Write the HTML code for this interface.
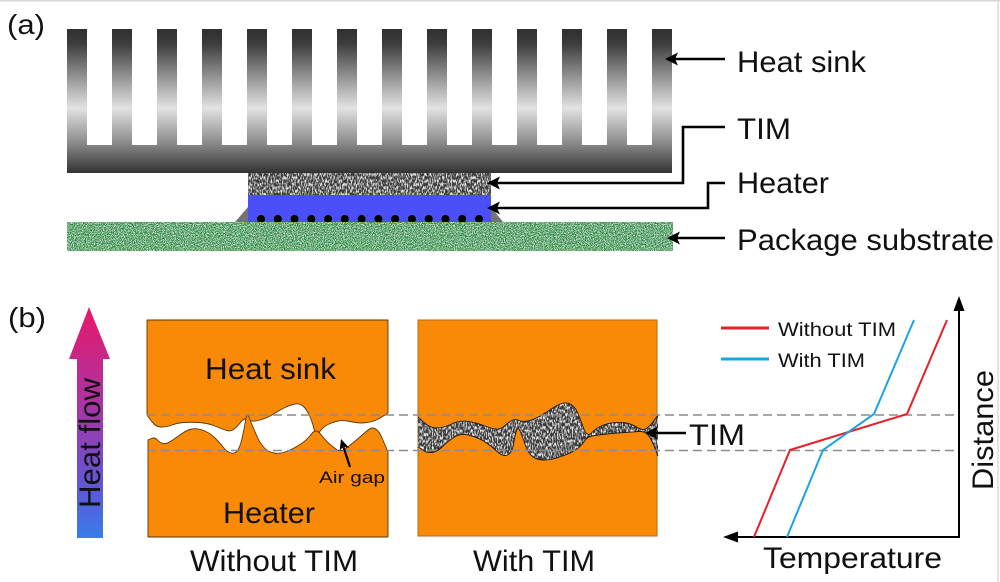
<!DOCTYPE html>
<html><head><meta charset="utf-8"><style>html,body{margin:0;padding:0;background:#fff;}svg{display:block}</style></head>
<body>
<svg width="1000" height="582" viewBox="0 0 1000 582" xmlns="http://www.w3.org/2000/svg" font-family="'Liberation Sans', Arial, sans-serif">
<defs>
  <linearGradient id="hs" gradientUnits="userSpaceOnUse" x1="0" y1="29" x2="0" y2="173">
    <stop offset="0" stop-color="#2f2f2f"/>
    <stop offset="0.1" stop-color="#3c3c3c"/>
    <stop offset="0.35" stop-color="#9a9a9a"/>
    <stop offset="0.55" stop-color="#e2e2e2"/>
    <stop offset="0.8" stop-color="#878787"/>
    <stop offset="1" stop-color="#323232"/>
  </linearGradient>
  <linearGradient id="hf" gradientUnits="userSpaceOnUse" x1="0" y1="307" x2="0" y2="538">
    <stop offset="0" stop-color="#e8186a"/>
    <stop offset="0.45" stop-color="#a536a6"/>
    <stop offset="0.8" stop-color="#5a5ad8"/>
    <stop offset="1" stop-color="#3a7ce8"/>
  </linearGradient>
  <filter id="texGray" x="0" y="0" width="1" height="1">
    <feTurbulence type="fractalNoise" baseFrequency="0.8 0.3" numOctaves="2" seed="5" result="n"/>
    <feColorMatrix in="n" type="matrix" values="0 0 0 0 0.88  0 0 0 0 0.88  0 0 0 0 0.88  3.8 0 0 0 -1.75" result="sp"/>
    <feComposite in="sp" in2="SourceGraphic" operator="atop"/>
  </filter>
  <filter id="texGreen" x="0" y="0" width="1" height="1">
    <feTurbulence type="fractalNoise" baseFrequency="1.1" numOctaves="2" seed="9" result="n"/>
    <feColorMatrix in="n" type="matrix" values="0 0 0 0 0.92  0 0 0 0 0.96  0 0 0 0 0.92  3.6 0 0 0 -1.6" result="sp"/>
    <feComposite in="sp" in2="SourceGraphic" operator="atop"/>
  </filter>
</defs>

<!-- border -->
<line x1="0" y1="0.75" x2="1000" y2="0.75" stroke="#d6d6d6" stroke-width="1.5"/>
<line x1="998" y1="0" x2="998" y2="582" stroke="#dcdcdc" stroke-width="1.5"/>

<!-- (a) -->
<text x="7" y="34" font-size="28" textLength="38" lengthAdjust="spacingAndGlyphs" fill="#111">(a)</text>

<!-- heat sink -->
<g fill="url(#hs)">
  <rect x="67" y="145" width="605" height="28"/>
  <rect x="67" y="29" width="20" height="117"/>
  <rect x="112" y="29" width="20" height="117"/>
  <rect x="157" y="29" width="20" height="117"/>
  <rect x="202" y="29" width="20" height="117"/>
  <rect x="247" y="29" width="20" height="117"/>
  <rect x="292" y="29" width="20" height="117"/>
  <rect x="337" y="29" width="20" height="117"/>
  <rect x="382" y="29" width="20" height="117"/>
  <rect x="427" y="29" width="20" height="117"/>
  <rect x="472" y="29" width="20" height="117"/>
  <rect x="517" y="29" width="20" height="117"/>
  <rect x="562" y="29" width="20" height="117"/>
  <rect x="607" y="29" width="20" height="117"/>
  <rect x="652" y="29" width="20" height="117"/>
</g>

<!-- TIM layer -->
<rect x="248" y="173" width="243" height="22" fill="#3a3a3a" filter="url(#texGray)"/>
<!-- fillet -->
<polygon points="235,222 248,207 491,207 503,222" fill="#727272"/>
<!-- heater -->
<rect x="248" y="195" width="243" height="27" fill="#4a50f8"/>
<g fill="#000">
  <circle cx="261" cy="219" r="4"/><circle cx="277.8" cy="219" r="4"/><circle cx="294.5" cy="219" r="4"/>
  <circle cx="311.3" cy="219" r="4"/><circle cx="328.1" cy="219" r="4"/><circle cx="344.8" cy="219" r="4"/>
  <circle cx="361.6" cy="219" r="4"/><circle cx="378.4" cy="219" r="4"/><circle cx="395.2" cy="219" r="4"/>
  <circle cx="411.9" cy="219" r="4"/><circle cx="428.7" cy="219" r="4"/><circle cx="445.5" cy="219" r="4"/>
  <circle cx="462.2" cy="219" r="4"/><circle cx="479" cy="219" r="4"/>
</g>
<!-- substrate -->
<rect x="67" y="222" width="606" height="29" fill="#168a38" filter="url(#texGreen)"/>

<!-- leaders (a) -->
<g stroke="#000" stroke-width="2.6" fill="none">
  <line x1="675" y1="59" x2="725" y2="59"/>
  <polyline points="725,127 683,127 683,183 497,183"/>
  <polyline points="725,183 708,183 708,208 497,208"/>
  <line x1="677" y1="238" x2="725" y2="238"/>
</g>
<g fill="#000">
  <polygon points="665,59 678,52.5 675,59 678,65.5"/>
  <polygon points="487,183 500,176.5 497,183 500,189.5"/>
  <polygon points="487,208 500,201.5 497,208 500,214.5"/>
  <polygon points="667,238 680,231.5 677,238 680,244.5"/>
</g>
<g font-size="30" fill="#111">
  <text x="737" y="72" textLength="129" lengthAdjust="spacingAndGlyphs">Heat sink</text>
  <text x="737" y="139" textLength="54" lengthAdjust="spacingAndGlyphs">TIM</text>
  <text x="737" y="193" textLength="92" lengthAdjust="spacingAndGlyphs">Heater</text>
  <text x="737" y="250" textLength="257" lengthAdjust="spacingAndGlyphs">Package substrate</text>
</g>

<!-- (b) -->
<text x="8" y="327" font-size="28" textLength="38" lengthAdjust="spacingAndGlyphs" fill="#111">(b)</text>

<!-- heat flow arrow -->
<path d="M77,538 L77,359 L69,359 L89,307 L110,359 L103,359 L103,538 Z" fill="url(#hf)"/>
<text transform="translate(100,508) rotate(-90)" font-size="30" textLength="130" lengthAdjust="spacingAndGlyphs" fill="#111">Heat flow</text>

<!-- Without TIM block: upper (heat sink) -->
<path d="M147,320 H388 V413 L382.5,416.5 Q377,420 372,421.5 Q367,423 362,423 Q357,423 350,421.5 Q343,420 338,421 Q333,422 328,424.5 Q323,427 319.5,432 Q316,437 314,429 Q312,421 309.5,415.5 Q307,410 303.5,406.5 Q300,403 295,404 Q290,405 285,407.5 Q280,410 273.5,414 Q267,418 260,420 Q253,422 250,420.5 Q247,419 245,419 Q243,419 240,423 Q237,427 233.5,429.5 Q230,432 225,430 Q220,428 213.5,425.5 Q207,423 198.5,422.5 Q190,422 183.5,422.5 Q177,423 172,425 Q167,427 162,427 Q157,427 154.5,424.5 Q152,422 149.5,418.5 L147,415 Z" fill="#f98a07" stroke="#5a3808" stroke-width="0.9" stroke-linejoin="round"/>
<!-- Without TIM block: lower (heater) -->
<path d="M148,537 V440 L151.5,438.5 Q155,437 157.5,440 Q160,443 163.5,443.5 Q167,444 172,440.5 Q177,437 182,433.5 Q187,430 192,429 Q197,428 203.5,430.5 Q210,433 215,438 Q220,443 223.5,447.5 Q227,452 231,453 Q235,454 237.5,450.5 Q240,447 242,438.5 Q244,430 245.5,421 Q247,412 248.5,416 Q250,420 252.5,426 Q255,432 257.5,437.5 Q260,443 264,447.5 Q268,452 274,453 Q280,454 286.5,451.5 Q293,449 300,444.5 Q307,440 311.5,434 Q316,428 320.5,434 Q325,440 329,443.5 Q333,447 336.5,449.5 Q340,452 344,449.5 Q348,447 354,442 Q360,437 365,432.5 Q370,428 372.5,428 Q375,428 377.5,430.5 Q380,433 382.5,439 Q385,445 386.5,448.5 L388,452 V537 Z" fill="#f98a07" stroke="#5a3808" stroke-width="0.9" stroke-linejoin="round"/>

<!-- With TIM block -->
<rect x="418" y="320" width="239" height="216" fill="#f98a07" stroke="#b86a10" stroke-width="1"/>
<path id="band" d="M418,417 L424,422.5 Q430,428 436.5,428 Q443,428 451.5,424 Q460,420 468.5,421.5 Q477,423 483.5,425.5 Q490,428 495,429 Q500,430 505,425.5 Q510,421 513,420 Q516,419 519,420.5 Q522,422 527.5,421 Q533,420 540,416 Q547,412 552,408.5 Q557,405 562,403.5 Q567,402 571,404.5 Q575,407 577.5,412.5 Q580,418 583.5,428 Q587,438 592,432.5 Q597,427 605,424.5 Q613,422 621.5,422.5 Q630,423 636.5,427 Q643,431 646.5,428.5 Q650,426 654,420.5 L658,415 L658,456 L654,446 Q650,436 646.5,433.5 Q643,431 638,431.5 Q633,432 625,432.5 Q617,433 607,434 Q597,435 592,436 Q587,437 584.5,441 Q582,445 577.5,448.5 Q573,452 566.5,454.5 Q560,457 555,458.5 Q550,460 543.5,460 Q537,460 532.5,456.5 Q528,453 525.5,445.5 Q523,438 520.5,432 Q518,426 516.5,430.5 Q515,435 513.5,444 Q512,453 507.5,455 Q503,457 496.5,451 Q490,445 483.5,441 Q477,437 468.5,435 Q460,433 453.5,437.5 Q447,442 442,447 Q437,452 432,452.5 Q427,453 423.5,450.5 Q420,448 419,447.5 L418,447 Z" fill="#383838" filter="url(#texGray)"/>
<path d="M418,417 L424,422.5 Q430,428 436.5,428 Q443,428 451.5,424 Q460,420 468.5,421.5 Q477,423 483.5,425.5 Q490,428 495,429 Q500,430 505,425.5 Q510,421 513,420 Q516,419 519,420.5 Q522,422 527.5,421 Q533,420 540,416 Q547,412 552,408.5 Q557,405 562,403.5 Q567,402 571,404.5 Q575,407 577.5,412.5 Q580,418 583.5,428 Q587,438 592,432.5 Q597,427 605,424.5 Q613,422 621.5,422.5 Q630,423 636.5,427 Q643,431 646.5,428.5 Q650,426 654,420.5 L658,415 M658,456 L654,446 Q650,436 646.5,433.5 Q643,431 638,431.5 Q633,432 625,432.5 Q617,433 607,434 Q597,435 592,436 Q587,437 584.5,441 Q582,445 577.5,448.5 Q573,452 566.5,454.5 Q560,457 555,458.5 Q550,460 543.5,460 Q537,460 532.5,456.5 Q528,453 525.5,445.5 Q523,438 520.5,432 Q518,426 516.5,430.5 Q515,435 513.5,444 Q512,453 507.5,455 Q503,457 496.5,451 Q490,445 483.5,441 Q477,437 468.5,435 Q460,433 453.5,437.5 Q447,442 442,447 Q437,452 432,452.5 Q427,453 423.5,450.5 Q420,448 419,447.5 L418,447" fill="none" stroke="#1a1a1a" stroke-width="0.9" stroke-linejoin="round"/>

<!-- dashed guide lines -->
<g stroke="#8c8c8c" stroke-width="1.6" stroke-dasharray="9 5" fill="none">
  <line x1="147" y1="415" x2="959" y2="415"/>
  <line x1="147" y1="450.5" x2="959" y2="450.5"/>
</g>

<!-- block texts -->
<g font-size="30" fill="#111">
  <text x="205" y="379" textLength="131" lengthAdjust="spacingAndGlyphs">Heat sink</text>
  <text x="223" y="523" textLength="92" lengthAdjust="spacingAndGlyphs">Heater</text>
  <text x="190" y="571" textLength="168" lengthAdjust="spacingAndGlyphs">Without TIM</text>
  <text x="473" y="571" textLength="122" lengthAdjust="spacingAndGlyphs">With TIM</text>
  <text x="689" y="445" textLength="56" lengthAdjust="spacingAndGlyphs">TIM</text>
</g>

<!-- air gap -->
<line x1="350" y1="467" x2="343.5" y2="447" stroke="#000" stroke-width="2.2"/>
<polygon points="341,439 349.2,448 343.4,446.6 339.6,451" fill="#000"/>
<text x="319" y="483" font-size="17" textLength="66" lengthAdjust="spacingAndGlyphs" fill="#111">Air gap</text>

<!-- TIM arrow (b) -->
<line x1="655" y1="433" x2="686" y2="433" stroke="#000" stroke-width="2.6"/>
<polygon points="645,433 658,426.5 655,433 658,439.5" fill="#000"/>

<!-- graph -->
<g stroke="#000" stroke-width="2" fill="none">
  <line x1="959" y1="538" x2="959" y2="308"/>
  <line x1="960" y1="537" x2="736" y2="537"/>
</g>
<polygon points="959,296 953.5,311 964.5,311" fill="#000"/>
<polygon points="723,537 738,531.5 738,542.5" fill="#000"/>

<polyline points="754,537 790,450 907,414 947,320" fill="none" stroke="#e8202a" stroke-width="2"/>
<polyline points="787,537 823,450 874,414 914,320" fill="none" stroke="#1aa4e4" stroke-width="2"/>

<line x1="721" y1="328" x2="769" y2="328" stroke="#e8202a" stroke-width="3"/>
<line x1="721" y1="359" x2="769" y2="359" stroke="#1aa4e4" stroke-width="3"/>
<text x="778" y="336" font-size="19" textLength="118" lengthAdjust="spacingAndGlyphs" fill="#111">Without TIM</text>
<text x="778" y="367" font-size="19" textLength="87" lengthAdjust="spacingAndGlyphs" fill="#111">With TIM</text>

<text x="763" y="568" font-size="30" textLength="179" lengthAdjust="spacingAndGlyphs" fill="#111">Temperature</text>
<text transform="translate(993,490) rotate(-90)" font-size="30" textLength="120" lengthAdjust="spacingAndGlyphs" fill="#111">Distance</text>
</svg>
</body></html>
